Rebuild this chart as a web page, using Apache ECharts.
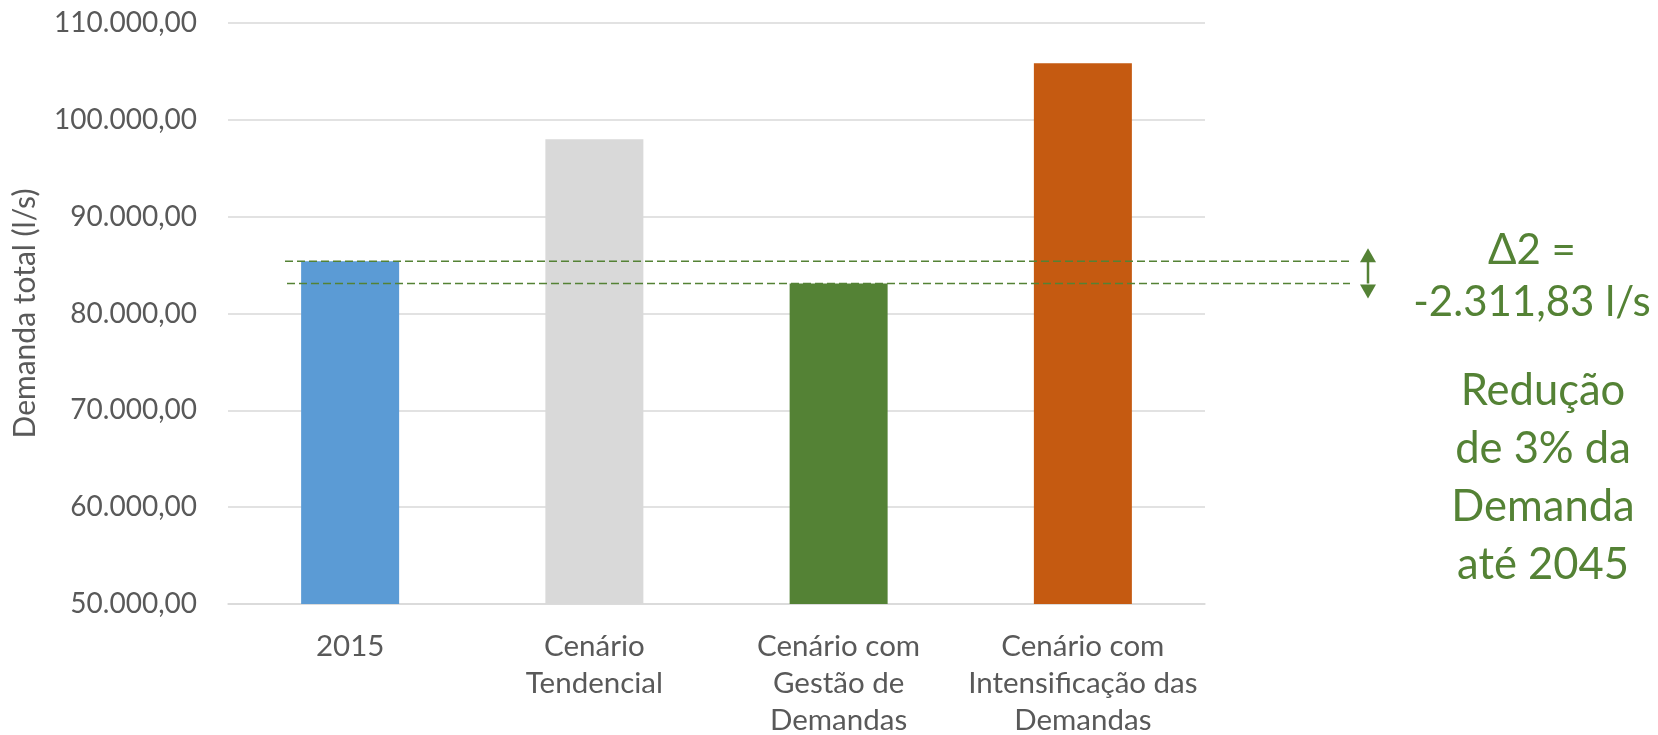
<!DOCTYPE html>
<html>
<head>
<meta charset="utf-8">
<script src="https://cdn.jsdelivr.net/npm/echarts@6/dist/echarts.min.js"></script>
<style>
  html, body { margin: 0; padding: 0; background: #ffffff; }
  #chart { width: 1658px; height: 735px; }
</style>
</head>
<body>
<div id="chart"></div>
<script>
// ---- data ----
const categories = [
  '2015',
  'Cenário\nTendencial',
  'Cenário com\nGestão de\nDemandas',
  'Cenário com\nIntensificação das\nDemandas'
];
const demand = [85400, 98000, 83088.17, 105850];
const barColors = ['#5B9BD5', '#D9D9D9', '#548235', '#C55A11'];
const yMin = 50000;
const yMax = 110000;
const yStep = 10000;
const deltaLabel = ['Δ2 =', '-2.311,83 l/s'];
const noteLines = ['Redução', 'de 3% da', 'Demanda', 'até 2045'];

// ---- helpers ----
function fmtBR(v) {
  const fixed = Math.abs(v).toFixed(2);
  const parts = fixed.split('.');
  const intPart = parts[0].replace(/\B(?=(\d{3})+(?!\d))/g, '.');
  return (v < 0 ? '-' : '') + intPart + ',' + parts[1];
}

const FONT = 'Lato, "Open Sans", sans-serif';
const TEXT = '#595959';
const GREEN = '#548235';

const chart = echarts.init(document.getElementById('chart'), null, { renderer: 'canvas' });

const refA = demand[0];
const refB = demand[2];

const option = {
  backgroundColor: '#ffffff',
  animation: false,
  grid: [
    { left: 228, right: 453, top: 23, bottom: 131, containLabel: false, outerBoundsMode: 'none' },
    { left: 0, right: 0, top: 23, bottom: 131, containLabel: false, outerBoundsMode: 'none' }
  ],
  xAxis: [
    {
      type: 'category',
      gridIndex: 0,
      data: categories,
      axisLine: { show: true, lineStyle: { color: '#D9D9D9', width: 1.5 } },
      axisTick: { show: false },
      axisLabel: {
        color: TEXT,
        fontFamily: FONT,
        fontSize: 29.5,
        lineHeight: 37,
        margin: 24,
        interval: 0
      }
    },
    {
      type: 'value',
      gridIndex: 1,
      min: 0,
      max: 1658,
      show: false
    }
  ],
  yAxis: [
    {
      type: 'value',
      gridIndex: 0,
      min: yMin,
      max: yMax,
      interval: yStep,
      name: 'Demanda total (l/s)',
      nameLocation: 'middle',
      nameGap: 188,
      nameTextStyle: { color: TEXT, fontFamily: FONT, fontSize: 30 },
      axisLine: { show: false },
      axisTick: { show: false },
      axisLabel: {
        color: TEXT,
        fontFamily: FONT,
        fontSize: 28,
        margin: 31,
        formatter: fmtBR
      },
      splitLine: { show: true, lineStyle: { color: '#D9D9D9', width: 1.5 } }
    },
    {
      type: 'value',
      gridIndex: 1,
      min: yMin,
      max: yMax,
      show: false
    }
  ],
  series: [
    {
      type: 'bar',
      xAxisIndex: 0,
      yAxisIndex: 0,
      barWidth: 98,
      data: demand.map((v, i) => ({ value: v, itemStyle: { color: barColors[i] } })),
      z: 2
    },
    {
      type: 'line',
      xAxisIndex: 1,
      yAxisIndex: 1,
      data: [[285, refA], [1350, refA]],
      symbol: 'none',
      lineStyle: { color: GREEN, width: 1.5, type: [8, 4] },
      z: 5,
      silent: true
    },
    {
      type: 'line',
      xAxisIndex: 1,
      yAxisIndex: 1,
      data: [[287, refB], [1350, refB]],
      symbol: 'none',
      lineStyle: { color: GREEN, width: 1.5, type: [8, 4] },
      z: 5,
      silent: true
    },
    {
      type: 'line',
      xAxisIndex: 1,
      yAxisIndex: 1,
      data: [
        { value: [1368, refA], symbolOffset: [0, -6], symbolRotate: 0 },
        { value: [1368, refB], symbolOffset: [0, 8], symbolRotate: 180 }
      ],
      symbol: 'triangle',
      symbolSize: [16, 14],
      showSymbol: true,
      itemStyle: { color: GREEN },
      lineStyle: { color: GREEN, width: 2.5 },
      z: 6,
      silent: true
    }
  ],
  graphic: [
    {
      type: 'text',
      x: 1532, y: 250,
      style: {
        text: deltaLabel[0],
        fill: GREEN,
        font: '42px ' + FONT,
        textAlign: 'center',
        textVerticalAlign: 'middle'
      }
    },
    {
      type: 'text',
      x: 1532, y: 302,
      style: {
        text: deltaLabel[1],
        fill: GREEN,
        font: '42px ' + FONT,
        textAlign: 'center',
        textVerticalAlign: 'middle'
      }
    },
    {
      type: 'text',
      x: 1543, y: 478,
      style: {
        text: noteLines.join('\n'),
        fill: GREEN,
        font: '43.5px ' + FONT,
        lineHeight: 57.7,
        textAlign: 'center',
        textVerticalAlign: 'middle'
      }
    }
  ]
};

chart.setOption(option);
</script>
</body>
</html>
